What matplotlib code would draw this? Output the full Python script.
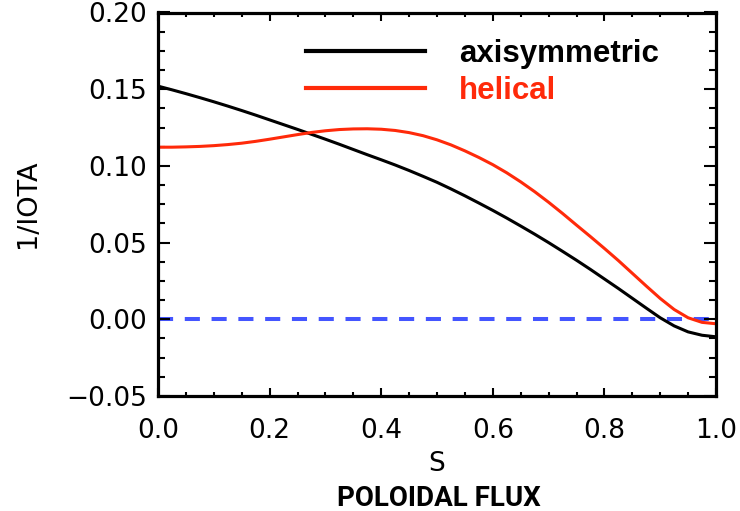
import matplotlib
matplotlib.use("Agg")
import matplotlib.pyplot as plt
from matplotlib.ticker import MultipleLocator, FuncFormatter

# Normalised poloidal flux coordinate
s = [0.000, 0.025, 0.050, 0.075, 0.100, 0.125, 0.150, 0.175, 0.200, 0.225,
     0.250, 0.275, 0.300, 0.325, 0.350, 0.375, 0.400, 0.425, 0.450, 0.475,
     0.500, 0.525, 0.550, 0.575, 0.600, 0.625, 0.650, 0.675, 0.700, 0.725,
     0.750, 0.775, 0.800, 0.825, 0.850, 0.875, 0.900, 0.925, 0.950, 0.975,
     1.000]

# 1/iota profiles
axisymmetric = [0.1520, 0.1496, 0.1471, 0.1445, 0.1418, 0.1390, 0.1361, 0.1331,
                0.1300, 0.1269, 0.1238, 0.1206, 0.1174, 0.1141, 0.1107, 0.1073,
                0.1040, 0.1006, 0.0970, 0.0932, 0.0893, 0.0850, 0.0805, 0.0758,
                0.0710, 0.0660, 0.0608, 0.0555, 0.0500, 0.0443, 0.0385, 0.0325,
                0.0263, 0.0201, 0.0137, 0.0073, 0.0010, -0.0043, -0.0082,
                -0.0104, -0.0114]
helical = [0.1122, 0.1122, 0.1124, 0.1127, 0.1132, 0.1139, 0.1148, 0.1160,
           0.1174, 0.1189, 0.1204, 0.1218, 0.1229, 0.1237, 0.1241, 0.1242,
           0.1239, 0.1231, 0.1217, 0.1197, 0.1170, 0.1137, 0.1098, 0.1055,
           0.1008, 0.0955, 0.0896, 0.0832, 0.0763, 0.0690, 0.0614, 0.0539,
           0.0462, 0.0383, 0.0300, 0.0217, 0.0136, 0.0064, 0.0010, -0.0020,
           -0.0029]

reference_level = 0.0
series_labels = ["axisymmetric", "helical"]

BLACK = "#000000"
RED = "#FF2A0A"
BLUE = "#4455FF"

fig = plt.figure(figsize=(7.40, 5.11), dpi=100)
ax = fig.add_axes([158 / 740, 1 - 396 / 511, (716 - 158) / 740, (396 - 12.5) / 511])

l1, = ax.plot(s, axisymmetric, color=BLACK, lw=2.2)
l2, = ax.plot(s, helical, color=RED, lw=2.2)
ax.axhline(reference_level, color=BLUE, lw=2.9, dashes=(3.75, 2.9), zorder=1)

ax.set_xlim(0.0, 1.0)
ax.set_ylim(-0.05, 0.20)


def fmt(decimals):
    return FuncFormatter(lambda v, pos: f"{v:.{decimals}f}".replace("-", "\u2212"))


ax.xaxis.set_major_locator(MultipleLocator(0.2))
ax.xaxis.set_minor_locator(MultipleLocator(0.05))
ax.yaxis.set_major_locator(MultipleLocator(0.05))
ax.yaxis.set_minor_locator(MultipleLocator(0.0125))
ax.xaxis.set_major_formatter(fmt(1))
ax.yaxis.set_major_formatter(fmt(2))

for sp in ax.spines.values():
    sp.set_linewidth(2.3)

tick_font = "DejaVu Sans"
ax.tick_params(axis="both", which="both", direction="in", top=True, right=True,
               width=1.5, labelsize=19)
ax.tick_params(axis="x", which="major", length=6, pad=16)
ax.tick_params(axis="x", which="minor", length=3)
ax.tick_params(axis="y", which="major", length=8.5, pad=8)
ax.tick_params(axis="y", which="minor", length=5)
for lab in ax.get_xticklabels() + ax.get_yticklabels():
    lab.set_fontfamily(tick_font)

fig.text(28 / 740, 1 - 204 / 511, "1/IOTA", rotation=90, ha="center", va="center",
         fontsize=19.5, family=tick_font)
fig.text(437 / 740, 1 - 464 / 511, "S", ha="center", va="center",
         fontsize=19, family=tick_font)
fig.text(439 / 740, 1 - 498 / 511, "POLOIDAL FLUX", ha="center", va="center",
         fontsize=20, family="Roboto", weight="bold")

leg = ax.legend([l1, l2], series_labels, loc="upper left",
                bbox_to_anchor=(306 / 740, 1 - 39 / 511), bbox_transform=fig.transFigure,
                frameon=False, handlelength=3.8, handletextpad=1.1,
                borderpad=0, borderaxespad=0, labelspacing=0.22,
                prop={"family": "Liberation Sans", "weight": "bold", "size": 22.5})
for txt, col in zip(leg.get_texts(), [BLACK, RED]):
    txt.set_color(col)
for h in leg.legend_handles:
    h.set_linewidth(3.0)

fig.savefig("out.png", dpi=100)
